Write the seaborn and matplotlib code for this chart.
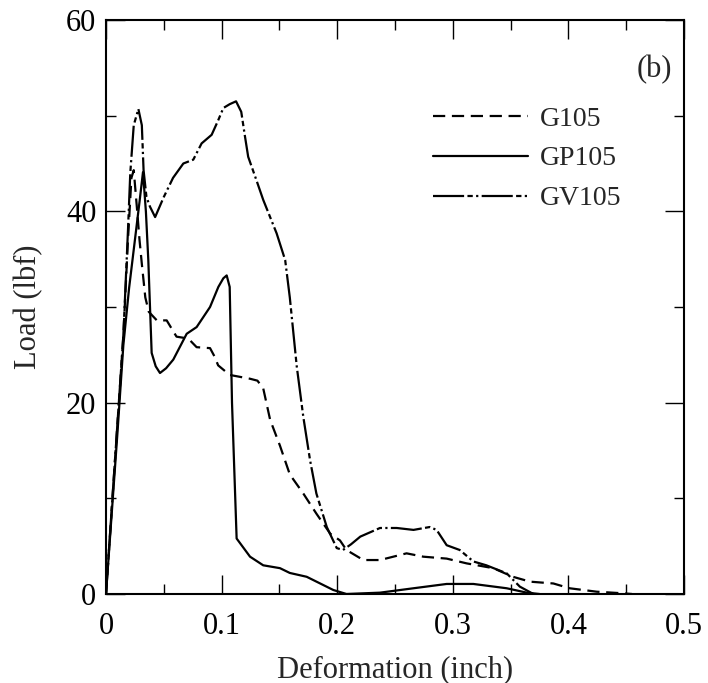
import numpy as np
import pandas as pd
import matplotlib
matplotlib.use("Agg")
import matplotlib.pyplot as plt
import seaborn as sns

# ---- data ----
g105_x = [0, 0.005, 0.010, 0.015, 0.019, 0.022, 0.024, 0.027, 0.029, 0.031, 0.034, 0.037,
          0.044, 0.0525, 0.061, 0.0712, 0.0784, 0.090, 0.094, 0.097, 0.107, 0.1246, 0.131,
          0.136, 0.142, 0.1505, 0.159, 0.1707, 0.182, 0.194, 0.2024, 0.208, 0.2226, 0.237,
          0.260, 0.2745, 0.2947, 0.312, 0.335, 0.352, 0.3668, 0.387, 0.401, 0.4245, 0.4475, 0.455]
g105_y = [0, 9, 18, 27, 37, 43.5, 44.3, 40, 37, 34.5, 31, 29.5,
          28.6, 28.6, 26.9, 26.7, 25.8, 25.7, 24.8, 23.9, 22.9, 22.5, 22.3,
          21.5, 18.2, 15.5, 12.5, 10.5, 8.4, 6.3, 5.6, 4.6, 3.55, 3.55,
          4.25, 3.9, 3.7, 3.2, 2.7, 1.8, 1.29, 1.1, 0.6, 0.24, 0.07, 0]

gp105_x = [0, 0.005, 0.010, 0.015, 0.020, 0.025, 0.029, 0.032, 0.0345, 0.0366, 0.0395, 0.043,
           0.0467, 0.052, 0.0582, 0.0698, 0.0784, 0.090, 0.0972, 0.1015, 0.1044, 0.107, 0.109,
           0.113, 0.1246, 0.136, 0.1505, 0.159, 0.1736, 0.1966, 0.208, 0.237, 0.266, 0.2947,
           0.3178, 0.3466, 0.364, 0.375]
gp105_y = [0, 8.5, 17, 26, 32, 37, 41, 44.1, 40, 34.9, 25.2, 23.8,
           23.1, 23.6, 24.5, 27.2, 27.9, 30.0, 32.1, 33.0, 33.3, 32.1, 20,
           5.8, 3.9, 3.0, 2.7, 2.2, 1.8, 0.42, 0.0, 0.14, 0.6, 1.05,
           1.05, 0.6, 0.14, 0]

gv105_x = [0, 0.005, 0.010, 0.015, 0.019, 0.021, 0.024, 0.028, 0.031, 0.0325, 0.035, 0.038,
           0.0425, 0.050, 0.058, 0.0669, 0.0755, 0.0827, 0.0914, 0.097, 0.1015, 0.107, 0.1125,
           0.117, 0.120, 0.123, 0.130, 0.136, 0.1476, 0.155, 0.159, 0.165, 0.1707, 0.1765,
           0.182, 0.191, 0.1996, 0.205, 0.212, 0.220, 0.237, 0.2515, 0.266, 0.280, 0.286,
           0.2947, 0.306, 0.3178, 0.329, 0.3466, 0.358, 0.3697]
gv105_y = [0, 9, 18, 27, 38, 44, 49, 50.7, 49, 44.3, 41.5, 40.5,
           39.4, 41.5, 43.5, 45.0, 45.4, 47.1, 48.0, 49.5, 50.8, 51.2, 51.5,
           50.4, 48, 45.7, 43.3, 41.2, 37.7, 34.9, 31.0, 23.8, 18.5, 14.0,
           10.5, 7.0, 4.8, 4.6, 5.2, 6.0, 6.9, 6.9, 6.7, 7.0, 6.7,
           5.1, 4.6, 3.4, 3.0, 2.16, 0.77, 0.0]

series_names = ["G105", "GP105", "GV105"]
x_ticks = [0, 0.1, 0.2, 0.3, 0.4, 0.5]
x_tick_labels = ["0", "0.1", "0.2", "0.3", "0.4", "0.5"]
y_ticks = [0, 20, 40, 60]

df = pd.concat([
    pd.DataFrame({"x": g105_x, "y": g105_y, "s": "G105"}),
    pd.DataFrame({"x": gp105_x, "y": gp105_y, "s": "GP105"}),
    pd.DataFrame({"x": gv105_x, "y": gv105_y, "s": "GV105"}),
])

sns.set_style("ticks")
plt.rcParams["font.family"] = ["Liberation Serif", "DejaVu Serif"]

fig = plt.figure(figsize=(7.08, 6.83), dpi=100)
ax = fig.add_axes([106 / 708, 1 - 594 / 683, 578 / 708, 574 / 683])

dash_map = {"G105": (5.5, 3.0), "GP105": "", "GV105": (14, 1.5, 2.4, 1.5, 1.0, 1.5)}
sns.lineplot(data=df, x="x", y="y", hue="s", style="s", palette=["black"] * 3,
             dashes=dash_map, sort=False, estimator=None, linewidth=1.6, ax=ax,
             hue_order=series_names, style_order=series_names)

ax.set_xlim(0, 0.5)
ax.set_ylim(0, 60)
ax.set_xticks(x_ticks)
ax.set_xticklabels(x_tick_labels)
ax.set_yticks(y_ticks)
ax.set_xticks(np.arange(0, 0.5001, 0.05), minor=True)
ax.set_yticks(np.arange(0, 60.01, 10), minor=True)
ax.tick_params(which="major", direction="in", length=14, width=1.0, top=True, right=True,
               labelsize=22, color="black", labelcolor="black")
ax.tick_params(which="minor", direction="in", length=7, width=1.0, top=True, right=True,
               color="black")
ax.tick_params(axis="x", which="major", pad=13)
ax.tick_params(axis="y", which="major", pad=7)
for sp in ax.spines.values():
    sp.set_linewidth(1.5)
    sp.set_color("black")
    sp.set_visible(True)

ax.set_xlabel("Deformation (inch)", fontsize=22, labelpad=10)
ax.set_ylabel("Load (lbf)", fontsize=22, labelpad=16)

ax.text(0.979, 0.913, "(b)", transform=ax.transAxes, ha="right", va="center", fontsize=22)

leg = ax.legend(loc="upper left", bbox_to_anchor=(0.566, 0.85), frameon=False,
                fontsize=20, handlelength=3.4, handletextpad=0.45, labelspacing=0.52,
                borderpad=0, borderaxespad=0)
for h in leg.get_lines():
    h.set_linewidth(1.6)

fig.savefig("out.png", dpi=100)
